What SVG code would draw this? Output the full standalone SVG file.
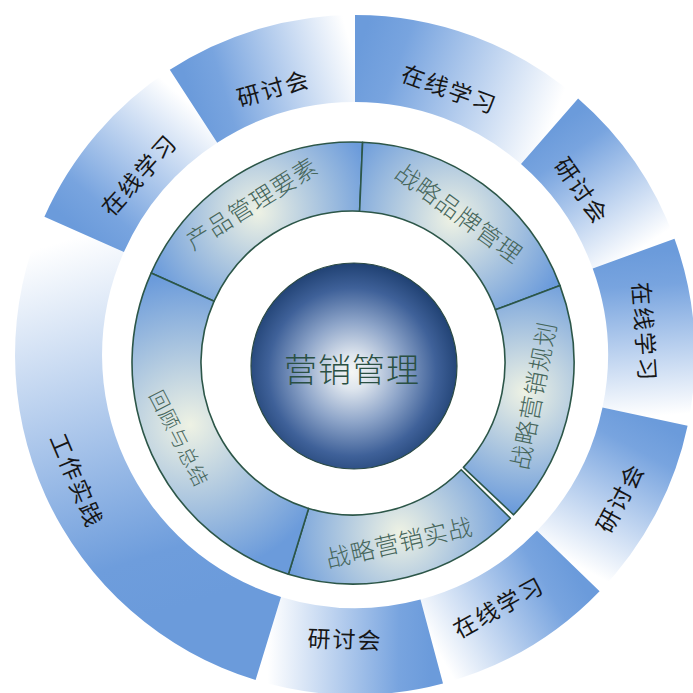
<svg xmlns="http://www.w3.org/2000/svg" width="693" height="693" viewBox="0 0 693 693">
<defs>
<style>
.o{font-family:"Noto Sans CJK SC","Noto Sans",sans-serif;font-size:23px;fill:#161616;letter-spacing:2px;text-anchor:middle;dominant-baseline:central}
.i{font-family:"Noto Sans CJK SC","Noto Sans",sans-serif;font-weight:300;font-size:24px;fill:#46665b;letter-spacing:1px;text-anchor:middle;dominant-baseline:central}
.c{font-family:"Noto Sans CJK SC","Noto Sans",sans-serif;font-weight:300;font-size:33px;fill:#2a5043;letter-spacing:1px;text-anchor:middle;dominant-baseline:central}
.si{stroke:#2c5648;stroke-width:1.6;stroke-linejoin:round}
</style>
<linearGradient id="go1" gradientUnits="userSpaceOnUse" x1="355" y1="58.5" x2="549.5" y2="131.2"><stop offset="0" stop-color="#6b9bdb"/><stop offset="0.2" stop-color="#78a4df"/><stop offset="1" stop-color="#ffffff"/></linearGradient>
<linearGradient id="go2" gradientUnits="userSpaceOnUse" x1="549.5" y1="131.2" x2="633.6" y2="253.6"><stop offset="0" stop-color="#6b9bdb"/><stop offset="0.2" stop-color="#78a4df"/><stop offset="1" stop-color="#ffffff"/></linearGradient>
<linearGradient id="go3" gradientUnits="userSpaceOnUse" x1="633.6" y1="253.6" x2="645" y2="416.6"><stop offset="0" stop-color="#6b9bdb"/><stop offset="0.2" stop-color="#78a4df"/><stop offset="1" stop-color="#ffffff"/></linearGradient>
<linearGradient id="go4" gradientUnits="userSpaceOnUse" x1="645" y1="416.6" x2="568.3" y2="561"><stop offset="0" stop-color="#6b9bdb"/><stop offset="0.2" stop-color="#78a4df"/><stop offset="1" stop-color="#ffffff"/></linearGradient>
<linearGradient id="go5" gradientUnits="userSpaceOnUse" x1="568.3" y1="561" x2="431.7" y2="641.4"><stop offset="0" stop-color="#6b9bdb"/><stop offset="0.2" stop-color="#78a4df"/><stop offset="1" stop-color="#ffffff"/></linearGradient>
<linearGradient id="go6" gradientUnits="userSpaceOnUse" x1="431.7" y1="641.4" x2="268.3" y2="638.5"><stop offset="0" stop-color="#6b9bdb"/><stop offset="0.2" stop-color="#78a4df"/><stop offset="1" stop-color="#ffffff"/></linearGradient>
<linearGradient id="go7" gradientUnits="userSpaceOnUse" x1="200" y1="600" x2="84.1" y2="234.4"><stop offset="0" stop-color="#6b9bdb"/><stop offset="0.15" stop-color="#6e9ddc"/><stop offset="1" stop-color="#ffffff"/></linearGradient>
<linearGradient id="go8" gradientUnits="userSpaceOnUse" x1="84.1" y1="234.4" x2="193.5" y2="106.3"><stop offset="0" stop-color="#6b9bdb"/><stop offset="0.2" stop-color="#78a4df"/><stop offset="1" stop-color="#ffffff"/></linearGradient>
<linearGradient id="go9" gradientUnits="userSpaceOnUse" x1="193.5" y1="106.3" x2="355" y2="58.5"><stop offset="0" stop-color="#6b9bdb"/><stop offset="0.2" stop-color="#78a4df"/><stop offset="1" stop-color="#ffffff"/></linearGradient>
<radialGradient id="gi1" gradientUnits="userSpaceOnUse" cx="258" cy="212" r="120"><stop offset="0" stop-color="#eef2e4"/><stop offset="1" stop-color="#6b9bdb"/></radialGradient>
<radialGradient id="gi2" gradientUnits="userSpaceOnUse" cx="452" cy="219" r="120"><stop offset="0" stop-color="#eef2e4"/><stop offset="1" stop-color="#6b9bdb"/></radialGradient>
<radialGradient id="gi3" gradientUnits="userSpaceOnUse" cx="524.5" cy="392" r="120"><stop offset="0" stop-color="#eef2e4"/><stop offset="1" stop-color="#6b9bdb"/></radialGradient>
<radialGradient id="gi4" gradientUnits="userSpaceOnUse" cx="400" cy="532.6" r="120"><stop offset="0" stop-color="#eef2e4"/><stop offset="1" stop-color="#6b9bdb"/></radialGradient>
<radialGradient id="gi5" gradientUnits="userSpaceOnUse" cx="190" cy="425" r="150"><stop offset="0" stop-color="#eef2e4"/><stop offset="1" stop-color="#6b9bdb"/></radialGradient>
<radialGradient id="gs" gradientUnits="userSpaceOnUse" cx="352" cy="372" r="112"><stop offset="0" stop-color="#f4f6f4"/><stop offset="0.15" stop-color="#dfe6ee"/><stop offset="0.45" stop-color="#8ea5c9"/><stop offset="0.75" stop-color="#3f6199"/><stop offset="1" stop-color="#1c3d6e"/></radialGradient>
</defs>
<rect width="693" height="693" fill="#ffffff"/>
<g id="outer-ring">
<g id="outer-1"><path d="M355,15 A340,340 0 0 1 578.1,98.4 L521,164.1 A253,253 0 0 0 355,102 Z" fill="url(#go1)"/><text class="o" transform="translate(450,88) rotate(20)">在线学习</text></g>
<g id="outer-2"><path d="M578.1,98.4 A340,340 0 0 1 674.5,238.7 L592.7,268.5 A253,253 0 0 0 521,164.1 Z" fill="url(#go2)"/><text class="o" transform="translate(583,190) rotate(55)">研讨会</text></g>
<g id="outer-3"><path d="M674.5,238.7 A340,340 0 0 1 687.6,425.7 L602.5,407.6 A253,253 0 0 0 592.7,268.5 Z" fill="url(#go3)"/><text class="o" transform="translate(646,332) rotate(86)">在线学习</text></g>
<g id="outer-4"><path d="M687.6,425.7 A340,340 0 0 1 599.6,591.2 L537,530.8 A253,253 0 0 0 602.5,407.6 Z" fill="url(#go4)"/><text class="o" transform="translate(619,497) rotate(-62)">研讨会</text></g>
<g id="outer-5"><path d="M599.6,591.2 A340,340 0 0 1 443,683.4 L420.5,599.4 A253,253 0 0 0 537,530.8 Z" fill="url(#go5)"/><text class="o" transform="translate(498,606) rotate(-29)">在线学习</text></g>
<g id="outer-6"><path d="M443,683.4 A340,340 0 0 1 255.6,680.1 L281,596.9 A253,253 0 0 0 420.5,599.4 Z" fill="url(#go6)"/><text class="o" transform="translate(345,638) rotate(2)">研讨会</text></g>
<g id="outer-7"><path d="M255.6,680.1 A340,340 0 0 1 44.4,216.7 L123.9,252.1 A253,253 0 0 0 281,596.9 Z" fill="url(#go7)"/><text class="o" transform="translate(78,480) rotate(67)">工作实践</text></g>
<g id="outer-8"><path d="M44.4,216.7 A340,340 0 0 1 169.8,69.8 L217.2,142.8 A253,253 0 0 0 123.9,252.1 Z" fill="url(#go8)"/><text class="o" transform="translate(138,174) rotate(-48)">在线学习</text></g>
<g id="outer-9"><path d="M169.8,69.8 A340,340 0 0 1 355,15 L355,102 A253,253 0 0 0 217.2,142.8 Z" fill="url(#go9)"/><text class="o" transform="translate(273,87) rotate(-16)">研讨会</text></g>
</g>
<g id="inner-ring">
<g id="inner-1"><path class="si" d="M151.1,273.1 A221,221 0 0 1 362.6,142.2 L359.6,211.2 A152,152 0 0 0 214.1,301.2 Z" fill="url(#gi1)"/><text class="i" transform="translate(251,202) rotate(-32)">产品管理要素</text></g>
<g id="inner-2"><path class="si" d="M362.6,142.2 A221,221 0 0 1 560,285.6 L495.4,309.8 A152,152 0 0 0 359.6,211.2 Z" fill="url(#gi2)"/><text class="i" transform="translate(460,212) rotate(36)">战略品牌管理</text></g>
<g id="inner-3"><path class="si" d="M560,285.6 A221,221 0 0 1 513.6,514.8 L463.4,467.4 A152,152 0 0 0 495.4,309.8 Z" fill="url(#gi3)"/><text class="i" transform="translate(532,395) rotate(-79)">战略营销规划</text></g>
<g id="inner-4"><path class="si" d="M510.4,518.2 A221,221 0 0 1 288.4,574.3 L308.6,508.4 A152,152 0 0 0 461.2,469.7 Z" fill="url(#gi4)"/><text class="i" transform="translate(399,541) rotate(-13)">战略营销实战</text></g>
<g id="inner-5"><path class="si" d="M288.4,574.3 A221,221 0 0 1 151.1,273.1 L214.1,301.2 A152,152 0 0 0 308.6,508.4 Z" fill="url(#gi5)"/><text class="i" style="font-size:20px" transform="translate(180,438) rotate(63)">回顾与总结</text></g>
</g>
<g id="center">
<circle cx="354" cy="366" r="103" fill="url(#gs)" stroke="#2b4a44" stroke-width="1.2"/>
<text class="c" x="352" y="368">营销管理</text>
</g>
</svg>
